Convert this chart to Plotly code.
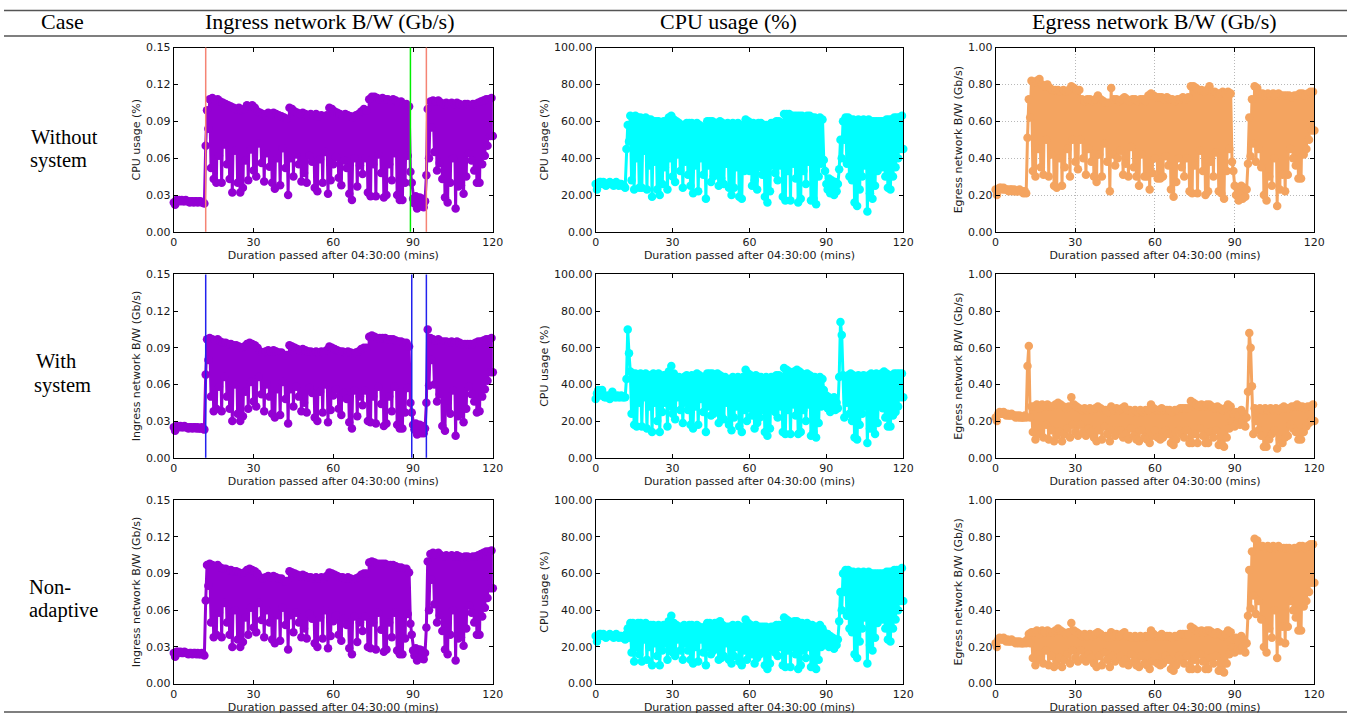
import numpy as np
import plotly.graph_objects as go

W, H = 1358, 724

# sample times (minutes after 04:30:00), one sample every 30 s
sample_minutes = np.arange(0, 120.5, 0.5)

# ---------------- Ingress network B/W (Gb/s) ----------------
ing_idle_a = [0.024, 0.022, 0.026, 0.025, 0.026, 0.025, 0.026, 0.025, 0.025, 0.026, 0.025, 0.025,
              0.024, 0.025, 0.025, 0.024, 0.025, 0.025, 0.024, 0.025, 0.025, 0.024, 0.024, 0.023]
ing_load_a = [0.070, 0.099, 0.084, 0.108, 0.052, 0.109, 0.043, 0.107, 0.040, 0.108,
              0.062, 0.106, 0.040, 0.105, 0.071, 0.104, 0.055, 0.103, 0.043, 0.102,
              0.032, 0.101, 0.066, 0.100, 0.040, 0.101, 0.032, 0.099, 0.036, 0.100,
              0.058, 0.103, 0.042, 0.102, 0.067, 0.103, 0.050, 0.101, 0.045, 0.098,
              0.072, 0.097, 0.056, 0.096, 0.041, 0.095, 0.064, 0.097, 0.053, 0.096,
              0.040, 0.097, 0.035, 0.096, 0.060, 0.095, 0.038, 0.094, 0.068, 0.093,
              0.052, 0.092, 0.030, 0.101, 0.060, 0.100, 0.045, 0.098, 0.063, 0.097,
              0.055, 0.096, 0.041, 0.097, 0.048, 0.096, 0.040, 0.095, 0.062, 0.096,
              0.057, 0.095, 0.036, 0.096, 0.033, 0.094, 0.059, 0.095, 0.040, 0.094,
              0.065, 0.095, 0.031, 0.101, 0.042, 0.100, 0.055, 0.098, 0.061, 0.097,
              0.044, 0.096, 0.038, 0.095, 0.058, 0.096, 0.052, 0.095, 0.031, 0.094,
              0.026, 0.093, 0.060, 0.095, 0.037, 0.096, 0.054, 0.098, 0.047, 0.100,
              0.060, 0.099, 0.032, 0.108, 0.029, 0.110, 0.055, 0.110, 0.029, 0.109,
              0.063, 0.108, 0.048, 0.109, 0.028, 0.108, 0.030, 0.108, 0.055, 0.107,
              0.042, 0.108, 0.064, 0.107, 0.030, 0.105, 0.026, 0.106, 0.026, 0.104,
              0.040, 0.104, 0.062, 0.102]
ing_gap_a = [0.049, 0.040, 0.027, 0.023, 0.029, 0.019, 0.025, 0.028, 0.021, 0.027, 0.020, 0.025]
ing_tail_a = [0.046, 0.100, 0.060, 0.106, 0.085, 0.107, 0.065, 0.106, 0.050, 0.107,
              0.056, 0.105, 0.043, 0.104, 0.028, 0.105, 0.024, 0.104, 0.040, 0.105,
              0.060, 0.104, 0.019, 0.105, 0.037, 0.104, 0.038, 0.103, 0.031, 0.104,
              0.045, 0.104, 0.064, 0.103, 0.058, 0.104, 0.050, 0.104, 0.040, 0.105,
              0.040, 0.106, 0.055, 0.107, 0.062, 0.108, 0.070, 0.108, 0.078, 0.109,
              0.078]

ing_idle_b = [0.025, 0.022, 0.026, 0.026, 0.025, 0.026, 0.025, 0.025, 0.026, 0.025, 0.025, 0.024,
              0.025, 0.025, 0.024, 0.025, 0.025, 0.024, 0.025, 0.024, 0.024, 0.025, 0.024, 0.023]
ing_load_b = [0.068, 0.097, 0.080, 0.098, 0.050, 0.097, 0.038, 0.096, 0.040, 0.097,
              0.058, 0.095, 0.038, 0.094, 0.066, 0.094, 0.050, 0.093, 0.040, 0.093,
              0.030, 0.092, 0.060, 0.092, 0.036, 0.091, 0.030, 0.090, 0.034, 0.091,
              0.054, 0.093, 0.040, 0.094, 0.062, 0.093, 0.046, 0.092, 0.042, 0.090,
              0.066, 0.087, 0.052, 0.086, 0.038, 0.087, 0.060, 0.088, 0.050, 0.087,
              0.036, 0.088, 0.033, 0.087, 0.056, 0.086, 0.035, 0.086, 0.062, 0.084,
              0.048, 0.084, 0.028, 0.092, 0.056, 0.091, 0.042, 0.090, 0.058, 0.089,
              0.050, 0.088, 0.038, 0.089, 0.045, 0.088, 0.037, 0.087, 0.057, 0.087,
              0.053, 0.086, 0.033, 0.087, 0.030, 0.086, 0.054, 0.087, 0.037, 0.086,
              0.060, 0.088, 0.029, 0.091, 0.039, 0.090, 0.051, 0.089, 0.056, 0.088,
              0.040, 0.087, 0.035, 0.087, 0.053, 0.086, 0.048, 0.087, 0.029, 0.086,
              0.024, 0.085, 0.055, 0.086, 0.034, 0.087, 0.050, 0.089, 0.043, 0.090,
              0.055, 0.090, 0.030, 0.099, 0.029, 0.100, 0.050, 0.099, 0.028, 0.098,
              0.058, 0.098, 0.044, 0.098, 0.026, 0.098, 0.028, 0.097, 0.050, 0.097,
              0.038, 0.097, 0.058, 0.096, 0.027, 0.095, 0.024, 0.095, 0.024, 0.094,
              0.037, 0.094, 0.057, 0.091]
ing_gap_b = [0.045, 0.037, 0.027, 0.023, 0.028, 0.019, 0.024, 0.027, 0.020, 0.026, 0.020, 0.024]
ing_tail_b = [0.045, 0.105, 0.059, 0.098, 0.080, 0.097, 0.060, 0.096, 0.046, 0.097,
              0.052, 0.095, 0.026, 0.095, 0.022, 0.095, 0.040, 0.094, 0.036, 0.095,
              0.055, 0.094, 0.018, 0.095, 0.034, 0.094, 0.037, 0.093, 0.029, 0.093,
              0.040, 0.093, 0.058, 0.093, 0.052, 0.093, 0.046, 0.094, 0.037, 0.095,
              0.038, 0.095, 0.050, 0.096, 0.056, 0.097, 0.063, 0.097, 0.070, 0.098,
              0.070]

# ---------------- CPU usage (%) ----------------
cpu_idle_a = [26, 23, 26, 27, 27, 26, 27, 26, 25, 26, 26, 27,
              26, 26, 25, 26, 27, 26, 25, 26, 26, 25, 25, 24]
cpu_load_a = [45, 58, 49, 63, 28, 62, 23, 63, 40, 62,
              24, 62, 24, 61, 44, 62, 23, 61, 36, 61,
              19, 60, 38, 60, 23, 60, 20, 59, 26, 60,
              35, 60, 23, 62, 40, 63, 30, 61, 27, 60,
              42, 59, 33, 58, 24, 58, 38, 59, 31, 59,
              25, 59, 21, 58, 36, 59, 22, 58, 40, 57,
              31, 56, 18, 60, 36, 60, 27, 60, 30, 59,
              33, 59, 25, 60, 29, 59, 26, 58, 37, 59,
              24, 58, 20, 59, 24, 58, 35, 59, 19, 58,
              18, 58, 33, 61, 34, 60, 33, 59, 25, 59,
              28, 58, 23, 59, 35, 59, 31, 58, 19, 58,
              16, 57, 22, 59, 36, 59, 32, 60, 28, 60,
              36, 59, 19, 64, 17, 64, 33, 64, 17, 63,
              37, 63, 29, 63, 16, 63, 18, 63, 33, 62,
              26, 63, 38, 63, 17, 62, 18, 62, 15, 61,
              30, 62, 37, 61]
cpu_gap_a = [39, 33, 26, 23, 29, 21, 28, 24, 20, 27, 22, 26]
cpu_tail_a = [34, 50, 40, 60, 50, 62, 37, 62, 30, 61,
              28, 61, 16, 60, 14, 61, 23, 60, 30, 61,
              36, 60, 11, 61, 21, 60, 18, 60, 25, 60,
              33, 60, 38, 60, 35, 60, 30, 61, 24, 61,
              23, 61, 30, 62, 35, 62, 40, 62, 45, 63,
              45]

cpu_idle_b = [32, 35, 37, 36, 34, 37, 34, 33, 33, 34, 33, 32,
              33, 36, 34, 33, 33, 34, 33, 33, 34, 33, 33, 33]
cpu_load_b = [43, 70, 57, 47, 24, 46, 18, 46, 17, 45,
              30, 46, 17, 45, 33, 46, 16, 45, 28, 45,
              14, 46, 30, 45, 20, 46, 14, 44, 25, 45,
              30, 45, 17, 47, 28, 50, 24, 46, 21, 44,
              33, 44, 26, 43, 19, 44, 30, 45, 26, 44,
              18, 45, 16, 44, 28, 46, 18, 45, 32, 43,
              25, 44, 14, 46, 28, 46, 23, 46, 24, 45,
              27, 46, 19, 45, 23, 44, 21, 44, 30, 43,
              18, 43, 15, 44, 22, 43, 28, 44, 17, 43,
              14, 44, 26, 48, 20, 46, 27, 45, 23, 44,
              16, 45, 19, 44, 22, 44, 26, 43, 14, 44,
              12, 43, 16, 44, 28, 43, 25, 45, 22, 45,
              28, 44, 14, 49, 13, 48, 26, 47, 13, 46,
              29, 47, 23, 48, 13, 47, 14, 46, 26, 45,
              20, 46, 29, 45, 12, 44, 14, 44, 11, 43,
              19, 44, 28, 43]
cpu_gap_b = [37, 30, 34, 27, 33, 25, 31, 28, 33, 26, 30, 27]
cpu_tail_b = [44, 74, 67, 45, 22, 44, 30, 45, 24, 46,
              20, 45, 11, 44, 10, 45, 18, 44, 24, 45,
              28, 44, 8, 45, 16, 46, 16, 45, 13, 46,
              19, 45, 30, 46, 27, 47, 22, 46, 17, 45,
              17, 45, 23, 46, 25, 46, 28, 46, 33, 46,
              33]

cpu_load_c = [27, 30, 25, 33, 17, 33, 12, 32, 20, 33,
              16, 33, 12, 32, 24, 33, 13, 32, 20, 32,
              10, 32, 22, 31, 15, 32, 10, 31, 18, 32,
              22, 32, 13, 34, 20, 37, 17, 33, 15, 32,
              24, 31, 18, 31, 13, 32, 22, 31, 18, 32,
              13, 32, 11, 31, 20, 32, 12, 31, 24, 30,
              17, 31, 10, 33, 20, 33, 16, 32, 18, 33,
              19, 33, 13, 34, 14, 32, 15, 31, 22, 31,
              13, 31, 11, 32, 15, 31, 20, 32, 12, 31,
              10, 31, 18, 35, 13, 33, 19, 32, 16, 31,
              11, 32, 14, 31, 16, 31, 19, 31, 10, 31,
              8, 30, 11, 31, 20, 31, 17, 32, 15, 32,
              20, 32, 10, 36, 9, 35, 18, 34, 9, 33,
              20, 34, 16, 34, 8, 33, 10, 33, 18, 32,
              14, 33, 20, 32, 9, 32, 9, 31, 8, 31,
              13, 32, 20, 30]
cpu_gap_c = [28, 25, 22, 27, 20, 26, 23, 25, 19, 24, 21, 24]

# ---------------- Egress network B/W (Gb/s) ----------------
egr_idle_a = [0.23, 0.20, 0.23, 0.24, 0.24, 0.23, 0.24, 0.23, 0.23, 0.23, 0.22, 0.23,
              0.23, 0.22, 0.23, 0.22, 0.22, 0.22, 0.23, 0.22, 0.22, 0.21, 0.22, 0.21]
egr_load_a = [0.51, 0.72, 0.62, 0.82, 0.33, 0.81, 0.30, 0.82, 0.45, 0.83,
              0.35, 0.80, 0.31, 0.79, 0.50, 0.80, 0.30, 0.78, 0.42, 0.77,
              0.25, 0.77, 0.24, 0.77, 0.40, 0.76, 0.25, 0.77, 0.35, 0.76,
              0.45, 0.77, 0.30, 0.79, 0.50, 0.78, 0.38, 0.77, 0.34, 0.77,
              0.50, 0.72, 0.40, 0.71, 0.31, 0.72, 0.45, 0.72, 0.38, 0.71,
              0.30, 0.72, 0.27, 0.74, 0.42, 0.72, 0.30, 0.71, 0.48, 0.70,
              0.38, 0.70, 0.22, 0.78, 0.42, 0.72, 0.36, 0.72, 0.40, 0.71,
              0.44, 0.72, 0.31, 0.73, 0.37, 0.72, 0.30, 0.71, 0.46, 0.72,
              0.35, 0.72, 0.30, 0.71, 0.25, 0.72, 0.42, 0.72, 0.30, 0.71,
              0.30, 0.74, 0.23, 0.75, 0.32, 0.74, 0.40, 0.73, 0.29, 0.73,
              0.29, 0.73, 0.30, 0.72, 0.41, 0.73, 0.36, 0.72, 0.23, 0.72,
              0.19, 0.71, 0.27, 0.72, 0.40, 0.72, 0.35, 0.73, 0.30, 0.72,
              0.40, 0.73, 0.22, 0.79, 0.21, 0.79, 0.36, 0.78, 0.21, 0.77,
              0.44, 0.77, 0.33, 0.76, 0.20, 0.77, 0.22, 0.79, 0.38, 0.76,
              0.30, 0.76, 0.43, 0.75, 0.22, 0.75, 0.21, 0.76, 0.18, 0.75,
              0.33, 0.76, 0.45, 0.75]
egr_gap_a = [0.38, 0.33, 0.25, 0.20, 0.24, 0.17, 0.22, 0.25, 0.18, 0.24, 0.19, 0.23]
egr_tail_a = [0.37, 0.62, 0.41, 0.72, 0.48, 0.79, 0.38, 0.78, 0.45, 0.75,
              0.35, 0.75, 0.20, 0.74, 0.17, 0.75, 0.30, 0.74, 0.25, 0.75,
              0.40, 0.74, 0.14, 0.75, 0.23, 0.74, 0.31, 0.74, 0.22, 0.74,
              0.31, 0.74, 0.45, 0.73, 0.40, 0.74, 0.36, 0.74, 0.29, 0.75,
              0.29, 0.75, 0.42, 0.74, 0.45, 0.75, 0.50, 0.76, 0.55, 0.76,
              0.55]

egr_idle_b = [0.22, 0.20, 0.24, 0.25, 0.24, 0.24, 0.25, 0.24, 0.23, 0.24, 0.23, 0.23,
              0.24, 0.23, 0.23, 0.22, 0.23, 0.22, 0.23, 0.22, 0.22, 0.22, 0.23, 0.22]
egr_onset_with = [0.50, 0.61]
egr_onset_nonadaptive = [0.24, 0.27]
egr_load_b = [0.22, 0.28, 0.14, 0.28, 0.10, 0.29, 0.16, 0.27,
              0.13, 0.29, 0.11, 0.28, 0.18, 0.29, 0.10, 0.28, 0.15, 0.28,
              0.09, 0.29, 0.12, 0.30, 0.14, 0.29, 0.09, 0.28, 0.13, 0.27,
              0.16, 0.28, 0.11, 0.33, 0.18, 0.29, 0.14, 0.28, 0.12, 0.27,
              0.18, 0.26, 0.14, 0.27, 0.12, 0.26, 0.16, 0.27, 0.14, 0.26,
              0.11, 0.27, 0.09, 0.28, 0.15, 0.27, 0.10, 0.26, 0.17, 0.26,
              0.13, 0.25, 0.09, 0.28, 0.15, 0.26, 0.12, 0.27, 0.14, 0.26,
              0.15, 0.27, 0.11, 0.28, 0.13, 0.26, 0.10, 0.26, 0.16, 0.25,
              0.12, 0.26, 0.10, 0.25, 0.09, 0.26, 0.15, 0.25, 0.11, 0.26,
              0.10, 0.26, 0.08, 0.29, 0.12, 0.27, 0.15, 0.26, 0.11, 0.26,
              0.10, 0.27, 0.11, 0.26, 0.15, 0.26, 0.13, 0.26, 0.08, 0.25,
              0.07, 0.26, 0.10, 0.26, 0.15, 0.27, 0.13, 0.27, 0.11, 0.27,
              0.15, 0.27, 0.08, 0.31, 0.08, 0.30, 0.13, 0.29, 0.08, 0.28,
              0.16, 0.29, 0.12, 0.28, 0.08, 0.29, 0.08, 0.29, 0.14, 0.28,
              0.11, 0.27, 0.15, 0.28, 0.07, 0.27, 0.07, 0.26, 0.06, 0.27,
              0.11, 0.29, 0.16, 0.28]
egr_gap_b = [0.20, 0.24, 0.17, 0.25, 0.19, 0.23, 0.18, 0.26, 0.20, 0.24, 0.17, 0.22]
egr_tail_b = [0.36, 0.68, 0.60, 0.39, 0.13, 0.27, 0.20, 0.26, 0.15, 0.27,
              0.12, 0.26, 0.06, 0.27, 0.06, 0.26, 0.10, 0.27, 0.13, 0.26,
              0.15, 0.27, 0.05, 0.26, 0.10, 0.27, 0.08, 0.28, 0.11, 0.27,
              0.12, 0.27, 0.18, 0.28, 0.16, 0.28, 0.14, 0.29, 0.10, 0.28,
              0.10, 0.28, 0.14, 0.27, 0.17, 0.28, 0.19, 0.28, 0.20, 0.29,
              0.20]

# assembled series per case
ingress_without = ing_idle_a + ing_load_a + ing_gap_a + ing_tail_a
ingress_with = ing_idle_b + ing_load_b + ing_gap_b + ing_tail_b
ingress_nonadaptive = ing_idle_b + ing_load_b + ing_gap_a + ing_tail_a
cpu_without = cpu_idle_a + cpu_load_a + cpu_gap_a + cpu_tail_a
cpu_with = cpu_idle_b + cpu_load_b + cpu_gap_b + cpu_tail_b
cpu_nonadaptive = cpu_idle_a + cpu_load_c + cpu_gap_c + cpu_tail_a
egress_without = egr_idle_a + egr_load_a + egr_gap_a + egr_tail_a
egress_with = egr_idle_b + egr_onset_with + egr_load_b + egr_gap_b + egr_tail_b
egress_nonadaptive = egr_idle_b + egr_onset_nonadaptive + egr_load_b + egr_gap_b + egr_tail_a

# event markers (minutes)
events_without = [(12, "#F58474"), (89, "#00EE00"), (95, "#F58474")]
events_with = [(12, "#2222EE"), (89.5, "#2222EE"), (95, "#2222EE")]

case_label_lines = [("Without", 25, 133), ("system", 24, 157),
                    ("With", 30, 361), ("system", 28, 386),
                    ("Non-", 23, 592), ("adaptive", 23, 616)]
column_headers = ["Case", "Ingress network B/W (Gb/s)", "CPU usage (%)", "Egress network B/W (Gb/s)"]
x_ticks = [0, 30, 60, 90, 120]
ing_ticks = [0, 0.03, 0.06, 0.09, 0.12, 0.15]
cpu_ticks = [0, 20, 40, 60, 80, 100]
egr_ticks = [0, 0.2, 0.4, 0.6, 0.8, 1.0]
x_title = "Duration passed after 04:30:00 (mins)"

PURPLE, CYAN, SANDY = "#9400D3", "#00FFFF", "#F4A460"

# panel grid in pixels
col_px = [(171.7, 494.3), (598.3, 909.3), (1002.7, 1325.0)]
row_px = [(42.3, 230.0), (273.3, 460.0), (503.3, 690.0)]

panels = [
    # row, col, values, color, y title, ticks, grid, events
    (0, 0, ingress_without, PURPLE, "CPU usage (%)", ing_ticks, False, events_without),
    (0, 1, cpu_without, CYAN, "CPU usage (%)", cpu_ticks, False, None),
    (0, 2, egress_without, SANDY, "Egress network B/W (Gb/s)", egr_ticks, True, None),
    (1, 0, ingress_with, PURPLE, "Ingress network B/W (Gb/s)", ing_ticks, False, events_with),
    (1, 1, cpu_with, CYAN, "CPU usage (%)", cpu_ticks, False, None),
    (1, 2, egress_with, SANDY, "Egress network B/W (Gb/s)", egr_ticks, False, None),
    (2, 0, ingress_nonadaptive, PURPLE, "Ingress network B/W (Gb/s)", ing_ticks, False, None),
    (2, 1, cpu_nonadaptive, CYAN, "CPU usage (%)", cpu_ticks, False, None),
    (2, 2, egress_nonadaptive, SANDY, "Egress network B/W (Gb/s)", egr_ticks, False, None),
]

tick_font = dict(family="DejaVu Sans", size=11, color="#1a1a1a")
head_font = dict(family="Liberation Serif", size=22, color="black")
case_font = dict(family="Liberation Serif", size=20.5, color="black")

fig = go.Figure()
layout = dict(width=W, height=H, margin=dict(l=0, r=0, t=0, b=0),
              paper_bgcolor="white", plot_bgcolor="white", showlegend=False)
shapes = []
annotations = []

for k, (r, c, vals, color, ytitle, yticks, grid, events) in enumerate(panels, start=1):
    xs = "" if k == 1 else str(k)
    fig.add_trace(go.Scatter(
        x=sample_minutes, y=vals, mode="lines+markers",
        line=dict(color=color, width=3), marker=dict(color=color, size=8.5),
        cliponaxis=False, xaxis="x" + xs, yaxis="y" + xs, hoverinfo="skip"))
    x0, x1 = col_px[c]
    y0, y1 = row_px[r]
    grid_kw = dict(showgrid=grid, gridcolor="#b8b8b8", griddash="1px,2px", gridwidth=1)
    layout["xaxis" + xs] = dict(
        domain=[x0 / W, x1 / W], anchor="y" + xs, range=[0, 120], tickvals=x_ticks,
        ticks="inside", ticklen=4, tickcolor="black", showline=True, linecolor="black",
        linewidth=1, mirror="ticks", zeroline=False, tickfont=tick_font,
        title=dict(text=x_title, font=tick_font, standoff=1), **grid_kw)
    layout["yaxis" + xs] = dict(
        domain=[1 - y1 / H, 1 - y0 / H], anchor="x" + xs, range=[yticks[0], yticks[-1]],
        tickvals=yticks, tickformat=".2f", ticks="inside", ticklen=4, tickcolor="black",
        showline=True, linecolor="black", linewidth=1, mirror="ticks", zeroline=False,
        tickfont=tick_font, title=dict(text=ytitle, font=tick_font, standoff=3), **grid_kw)
    if events:
        for ev, ecol in events:
            shapes.append(dict(type="line", xref="x" + xs, yref="y" + xs + " domain",
                               x0=ev, x1=ev, y0=0, y1=1, layer="above",
                               line=dict(color=ecol, width=1.5)))

# table rules
for yy in (4.5, 30.5, 719.0):
    shapes.append(dict(type="line", xref="paper", yref="paper", x0=0, x1=1,
                       y0=1 - yy / H, y1=1 - yy / H, line=dict(color="#555555", width=1.5)))

# header row
for txt, cx in zip(column_headers, [59, 330, 733, 1163]):
    annotations.append(dict(text=txt, x=cx / W, y=1 - 16 / H, xref="paper", yref="paper",
                            showarrow=False, font=head_font, xanchor="center", yanchor="middle"))
# case labels
for txt, lx, cy in case_label_lines:
    annotations.append(dict(text=txt, x=lx / W, y=1 - cy / H, xref="paper", yref="paper",
                            showarrow=False, font=case_font, xanchor="left", yanchor="middle"))

layout["shapes"] = shapes
layout["annotations"] = annotations
fig.update_layout(**layout)
fig.write_html("out.html", config={"displayModeBar": False},
               post_script="document.body.style.margin='0';document.body.style.overflow='hidden';")
